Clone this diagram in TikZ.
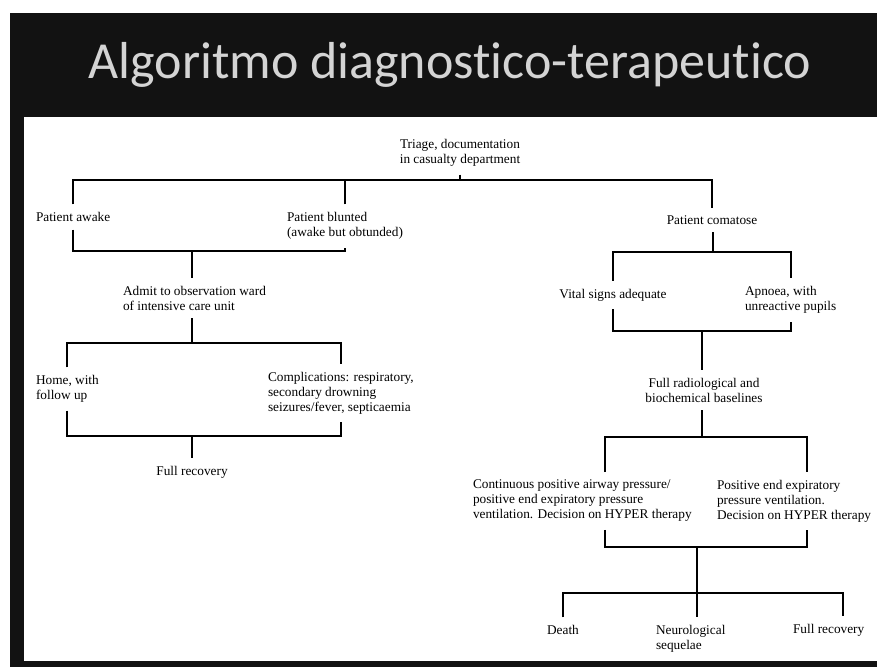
\documentclass[tikz,border=0pt]{standalone}
\usepackage{fontspec}
\setmainfont{Liberation Serif}
\newfontfamily\titlefont[Ligatures=NoCommon]{Carlito}
\usepackage{tikz}
\definecolor{slidebg}{HTML}{121212}
\definecolor{titlegray}{HTML}{D4D4D4}
\tikzstyle{txt}=[inner sep=0pt, outer xsep=0pt, outer ysep=8pt, font=\fontsize{13.3}{15}\selectfont]
\tikzstyle{lft}=[txt, anchor=west, align=left]
\tikzstyle{ctr}=[txt, align=center]
\tikzstyle{link}=[line width=2pt, black]

\begin{document}
\begin{tikzpicture}[x=1pt, y=-1pt]
            \useasboundingbox (0,0) rectangle (877,667);
            \fill[white] (0,0) rectangle (877,667);
            \fill[slidebg] (10,13) rectangle (877,667);
            \fill[white] (24,117) rectangle (877,661);
            \node[text=titlegray, font=\titlefont\fontsize{52}{52}\selectfont] (title) at (450,65) {Algoritmo diagnostico-terapeutico};

            % left branch
            \node[ctr] (triage) at (460,153) {Triage, documentation\\in casualty department};
            \node[lft] (awake) at (36,217) {Patient awake};
            \node[lft] (blunted) at (287,226) {Patient blunted\\(awake but obtunded)};
            \node[lft] (admit) at (123,298) {Admit to observation ward\\of intensive care unit};
            \node[lft] (home) at (36,389) {Home, with\\follow up};
            \node[lft] (compl) at (268,393) {Complications: respiratory,\\secondary drowning\\seizures/fever, septicaemia};
            \node[ctr] (fullrec1) at (192,472) {Full recovery};

            % right branch
            \node[ctr] (comatose) at (712,220) {Patient comatose};
            \node[ctr] (vital) at (613,295) {Vital signs adequate};
            \node[lft] (apnoea) at (745,300) {Apnoea, with\\unreactive pupils};
            \node[ctr] (baseline) at (704,390) {Full radiological and\\biochemical baselines};
            \node[lft] (cpap) at (473,501) {Continuous positive airway pressure/\\positive end expiratory pressure\\ventilation. Decision on HYPER therapy};
            \node[lft] (peep) at (717,501) {Positive end expiratory\\pressure ventilation.\\Decision on HYPER therapy};
            \node[ctr] (death) at (563,630) {Death};
            \node[lft] (sequel) at (656,639) {Neurological\\sequelae};
            \node[lft] (fullrec2) at (793,630) {Full recovery};

            % junctions
            \coordinate (t1) at (460,180);
            \coordinate (a1) at (192,251);
            \coordinate (a2) at (192,343);
            \coordinate (a3) at (192,436);
            \coordinate (c1) at (713,252);
            \coordinate (c2) at (702,331);
            \coordinate (b3) at (702,437);
            \coordinate (b4) at (697,547);
            \coordinate (b5) at (697,593);
            \coordinate (cpapx) at (605,0);
            \coordinate (peepx) at (807,0);
            \coordinate (recx) at (843,0);

            \draw[link] (triage.south) -- (t1);
            \draw[link] (awake.north) |- (t1) -| (comatose.north);
            \draw[link] (blunted.north) -- (blunted.north |- t1);
            \draw[link] (awake.south) |- (a1) -| (blunted.south);
            \draw[link] (a1) -- (a1 |- admit.north);
            \draw[link] (a1 |- admit.south) -- (a2);
            \draw[link] (home.north) |- (a2) -| (compl.north);
            \draw[link] (home.south) |- (a3) -| (compl.south);
            \draw[link] (a3) -- (a3 |- fullrec1.north);

            \draw[link] (c1 |- comatose.south) -- (c1);
            \draw[link] (vital.north) |- (c1) -| (apnoea.north);
            \draw[link] (vital.south) |- (c2) -| (apnoea.south);
            \draw[link] (c2) -- (c2 |- baseline.north);
            \draw[link] (b3 |- baseline.south) -- (b3);
            \draw[link] (cpap.north -| cpapx) |- (b3) -| (peep.north -| peepx);
            \draw[link] (cpap.south -| cpapx) |- (b4) -| (peep.south -| peepx);
            \draw[link] (b4) -- (b4 |- sequel.north);
            \draw[link] (death.north) |- (b5) -| (fullrec2.north -| recx);
        \end{tikzpicture}
\end{document}
